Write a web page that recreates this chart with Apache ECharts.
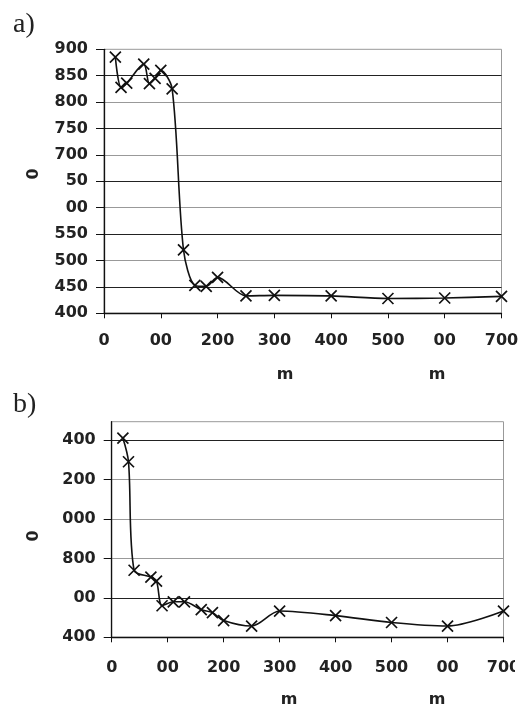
<!DOCTYPE html>
<html>
<head>
<meta charset="utf-8">
<script src="https://cdn.jsdelivr.net/npm/echarts@6/dist/echarts.min.js"></script>
<style>
html,body{margin:0;padding:0;background:#fff;}
#c{width:526px;height:708px;}
</style>
</head>
<body>
<div id="c"></div>
<script>
// ---- data ----
const aX = [20, 30, 40, 70, 80, 90, 100, 120, 140, 160, 180, 200, 250, 300, 400, 500, 600, 700];
const aY = [885, 828, 836, 872, 835, 845, 860, 825, 520, 453, 451, 468, 433, 434, 433, 428, 429, 432];
const bX = [20, 30, 40, 70, 80, 90, 110, 130, 160, 180, 200, 250, 300, 400, 500, 600, 700];
const bY = [1410, 1290, 740, 705, 685, 560, 580, 580, 540, 525, 485, 457, 533, 510, 475, 457, 533];

const xTicks = [0, 100, 200, 300, 400, 500, 600, 700];
const xTickLabels = ['0', '00', '200', '300', '400', '500', '00', '700'];
const aYTicks = [400, 450, 500, 550, 600, 650, 700, 750, 800, 850, 900];
const aYTickLabels = ['400', '450', '500', '550', '00', '50', '700', '750', '800', '850', '900'];
const bYTicks = [400, 600, 800, 1000, 1200, 1400];
const bYTickLabels = ['400', '00', '800', '000', '200', '400'];
const panelLabels = ['a)', 'b)'];
const xAxisNames = ['m', 'm'];
const yAxisNames = ['0', '0'];

function labelFor(ticks, labels) {
  return function (v) {
    const i = ticks.indexOf(v);
    return i >= 0 ? labels[i] : '';
  };
}

const FONT = 'DejaVu Sans';
const labelStyle = { fontFamily: FONT, fontWeight: 'bold', fontSize: 16, color: '#222', lineHeight: 16 };
const symbolX = 'path://M0,0L10,10M10,0L0,10';

function lineSeries(xs, ys, idx) {
  return {
    type: 'line',
    xAxisIndex: idx, yAxisIndex: idx,
    data: xs.map((x, i) => [x, ys[i]]),
    smooth: 0.3,
    symbol: symbolX,
    symbolSize: 11,
    showAllSymbol: true,
    lineStyle: { color: '#111', width: 1.6 },
    itemStyle: { color: '#111', borderColor: '#111', borderWidth: 1.7 },
    emphasis: { disabled: true }
  };
}

const chart = echarts.init(document.getElementById('c'), null, { renderer: 'canvas' });
chart.setOption({
  animation: false,
  backgroundColor: '#fff',
  grid: [
    { left: 104, top: 49.3, width: 397.5, height: 264, show: true, borderColor: '#999', borderWidth: 1 },
    { left: 111.7, top: 421.7, width: 391.8, height: 215.6, show: true, borderColor: '#999', borderWidth: 1 }
  ],
  xAxis: [0, 1].map(i => ({
    type: 'value', gridIndex: i, min: 0, max: 700, interval: 100,
    axisLine: { show: true, lineStyle: { color: '#111', width: 1.3 } },
    axisTick: { show: true, length: 5, lineStyle: { color: '#111' } },
    splitLine: { show: false },
    axisLabel: Object.assign({ margin: i === 0 ? 20 : 23, formatter: labelFor(xTicks, xTickLabels) }, labelStyle)
  })),
  yAxis: [
    {
      type: 'value', gridIndex: 0, min: 400, max: 900, interval: 50,
      axisLine: { show: true, lineStyle: { color: '#111', width: 1.3 } },
      axisTick: { show: true, length: 8, lineStyle: { color: ['#111'] } },
      splitLine: { show: true, showMinLine: false, showMaxLine: false,
        lineStyle: { color: ['#222', '#999', '#222', '#999', '#222', '#999', '#222', '#999', '#222', '#999', '#999'], width: 1 } },
      axisLabel: Object.assign({ margin: 16, formatter: labelFor(aYTicks, aYTickLabels) }, labelStyle)
    },
    {
      type: 'value', gridIndex: 1, min: 400, max: 1493, interval: 200,
      axisLine: { show: true, lineStyle: { color: '#111', width: 1.3 } },
      axisTick: { show: true, length: 8, lineStyle: { color: '#111' } },
      splitLine: { show: true, showMinLine: false, showMaxLine: false,
        lineStyle: { color: ['#222', '#999', '#999', '#999', '#222', '#222', '#999'], width: 1 } },
      axisLabel: Object.assign({ margin: 16, showMaxLabel: false, formatter: labelFor(bYTicks, bYTickLabels) }, labelStyle)
    }
  ],
  series: [lineSeries(aX, aY, 0), lineSeries(bX, bY, 1)],
  graphic: [
    { type: 'text', left: 13, top: 11, style: { text: panelLabels[0], font: '28px "Liberation Serif"', fill: '#222' } },
    { type: 'text', left: 13, top: 391, style: { text: panelLabels[1], font: '28px "Liberation Serif"', fill: '#222' } },
    { type: 'text', x: 285, y: 375, style: { text: xAxisNames[0], font: 'bold 16px "DejaVu Sans"', fill: '#222', align: 'center', verticalAlign: 'middle' } },
    { type: 'text', x: 437, y: 375, style: { text: xAxisNames[1], font: 'bold 16px "DejaVu Sans"', fill: '#222', align: 'center', verticalAlign: 'middle' } },
    { type: 'text', x: 289, y: 700, style: { text: xAxisNames[0], font: 'bold 16px "DejaVu Sans"', fill: '#222', align: 'center', verticalAlign: 'middle' } },
    { type: 'text', x: 437, y: 700, style: { text: xAxisNames[1], font: 'bold 16px "DejaVu Sans"', fill: '#222', align: 'center', verticalAlign: 'middle' } },
    { type: 'text', x: 34, y: 174, rotation: Math.PI / 2, style: { text: yAxisNames[0], font: 'bold 16px "DejaVu Sans"', fill: '#222', align: 'center', verticalAlign: 'middle' } },
    { type: 'text', x: 34, y: 536, rotation: Math.PI / 2, style: { text: yAxisNames[1], font: 'bold 16px "DejaVu Sans"', fill: '#222', align: 'center', verticalAlign: 'middle' } },
    { type: 'rect', x: 515, y: 652, z: 100, shape: { width: 11, height: 30 }, style: { fill: '#fff' } }
  ]
});
</script>
</body>
</html>
